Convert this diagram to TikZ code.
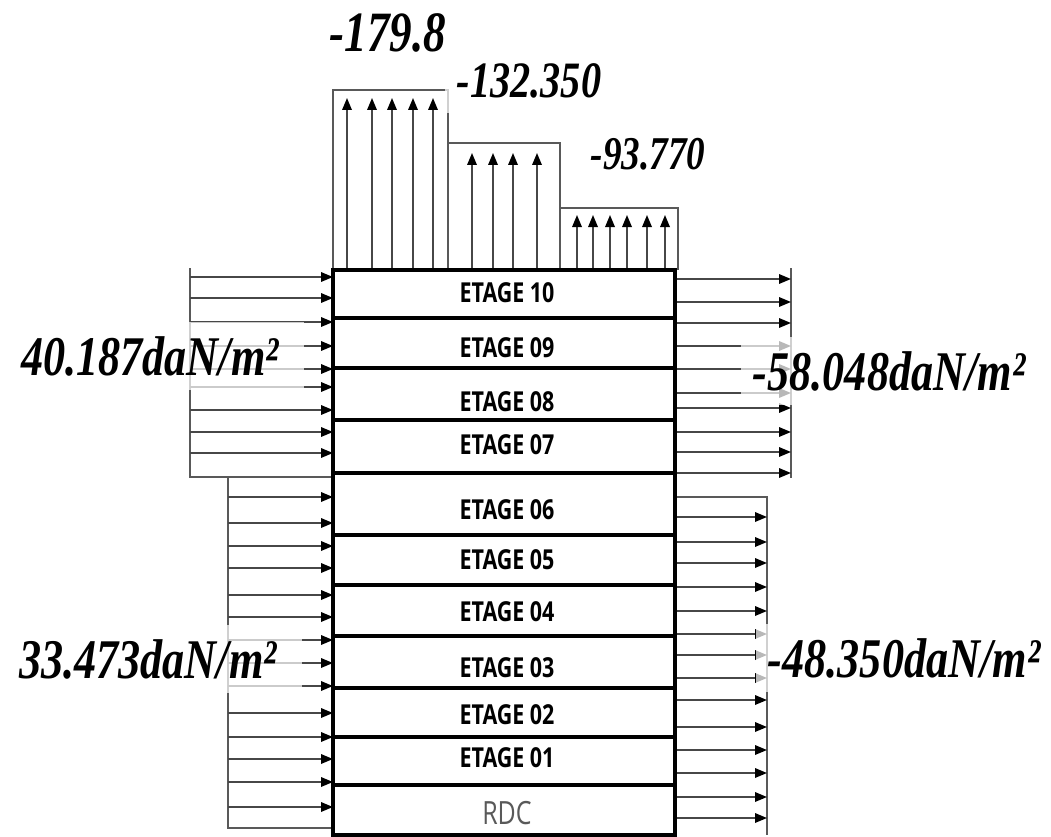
\documentclass[tikz,border=0pt]{standalone}
\usepackage{fontspec}
\usetikzlibrary{arrows.meta}
\newfontfamily\valfont[FakeStretch=0.79]{Liberation Serif}
\newfontfamily\floorfont[FakeStretch=0.78]{Open Sans}
\tikzset{
  load/.style={draw=black!72, line width=1.7pt, -{Triangle[length=12pt,width=9.5pt,color=black]}},
  frame/.style={draw=black!65, line width=1.4pt},
  slab/.style={line width=3.4pt},
  floor/.style={font=\floorfont\bfseries\fontsize{27.5}{27.5}\selectfont},
  val/.style={anchor=base, fill=white, fill opacity=0.72, text opacity=1,
    inner xsep=12pt, inner ysep=14pt, font=\valfont\bfseries\itshape\fontsize{56}{60}\selectfont}
}
\begin{document}
\begin{tikzpicture}[x=1pt,y=-1pt]
\useasboundingbox (0,0) rectangle (1051,837);
% roof suction, three steps
\draw[frame] (333,270) -- (333,90) -- (448,90) -- (448,270);
\draw[frame] (448,270) -- (448,143) -- (560,143) -- (560,270);
\draw[frame] (560,270) -- (560,208) -- (678,208) -- (678,270);
\foreach \x in {347,372,392,413,433}{\draw[load] (\x,270) -- (\x,98);}
\foreach \x in {472,493,513,537}{\draw[load] (\x,270) -- (\x,153);}
\foreach \x in {577,593,610,627,647,665}{\draw[load] (\x,270) -- (\x,215);}
% windward side (left)
\draw[frame] (190,268) -- (190,477) -- (333,477);
\draw[frame] (228,477) -- (228,828) -- (333,828);
\foreach \y in {277,298,322,346,369,387,410,432,453}{\draw[load] (190,\y) -- (333,\y);}
\foreach \y in {497,523,546,568,595,617,640,663,686,713,737,759,782,807}{\draw[load] (228,\y) -- (333,\y);}
% leeward side (right)
\draw[frame] (791,268) -- (791,478);
\draw[frame] (675,497) -- (767,497) -- (767,835);
\foreach \y in {279,302,323,346,369,393,408,432,452,473}{\draw[load] (675,\y) -- (791,\y);}
\foreach \y in {517,542,563,587,611,634,655,678,700,727,750,773,797,818}{\draw[load] (675,\y) -- (767,\y);}
% building
\draw[slab] (333,270) rectangle (675,835);
\foreach \y in {318,368,420,473,535,585,636,688,737,785}{\draw[slab] (333,\y) -- (675,\y);}
\foreach \y/\n/\t in {293/e10/ETAGE 10,348/e09/ETAGE 09,402/e08/ETAGE 08,445/e07/ETAGE 07,
  510/e06/ETAGE 06,560/e05/ETAGE 05,612/e04/ETAGE 04,668/e03/ETAGE 03,715/e02/ETAGE 02,758/e01/ETAGE 01}{
  \node[floor] (\n) at (507,\y) {\t};}
\node[floor, font=\floorfont\fontsize{32}{32}\selectfont, text=black!65] (rdc) at (507,813) {RDC};
% values
\node[val, font=\valfont\bfseries\itshape\fontsize{57}{60}\selectfont] (q179) at (388,52) {-179.8};
\node[val, font=\valfont\bfseries\itshape\fontsize{51}{55}\selectfont] (q132) at (529,98) {-132.350};
\node[val, font=\valfont\bfseries\itshape\fontsize{47}{50}\selectfont] (q93) at (648,170) {-93.770};
\node[val, inner xsep=25pt] (wl1) at (150,375) {40.187daN/m²};
\node[val] (wr1) at (889,390) {-58.048daN/m²};
\node[val, inner xsep=25pt] (wl2) at (148,678) {33.473daN/m²};
\node[val] (wr2) at (904,677) {-48.350daN/m²};
\end{tikzpicture}
\end{document}
